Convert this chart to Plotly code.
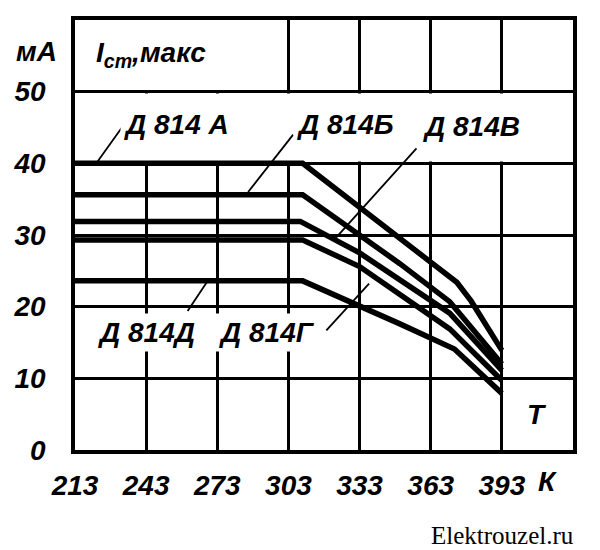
"""
Д814 zener diodes: maximum stabilisation current vs temperature.
"""

import plotly.graph_objects as go

# temperature breakpoints (K) and max current (mA) for each diode
temp_a = [213, 309, 374, 380, 393]
curr_a = [40, 40, 23.4, 20.8, 13.9]

temp_b = [213, 309, 350, 371, 393]
curr_b = [35.6, 35.6, 26.0, 20.7, 12.0]

temp_v = [213, 308, 333, 371, 393]
curr_v = [31.9, 31.9, 27.5, 19.1, 11.1]

temp_g = [213, 309, 333, 371, 393]
curr_g = [29.3, 29.3, 25.6, 16.9, 9.7]

temp_d = [213, 309, 350, 373, 393]
curr_d = [23.6, 23.6, 17.6, 14.1, 7.9]

curve_names = ["Д 814 А", "Д 814Б", "Д 814В", "Д 814Г", "Д 814Д"]

# label centres (T, mA)
label_x = [256, 327, 380, 294, 243]
label_y = [45.4, 45.4, 45.2, 16.4, 16.4]

# leader lines from label to curve: (T start, mA start, T end, mA end)
leader_lines = [
    (222, 40.0, 233, 45.1),
    (286, 36.0, 305, 44.0),
    (323, 29.6, 357, 42.1),
    (319, 16.7, 337, 23.2),
    (260.5, 19.4, 269, 23.6),
]

x_ticks = [213, 243, 273, 303, 333, 363, 393]
y_ticks = [0, 10, 20, 30, 40, 50]

FONT = "Liberation Sans"
hand = dict(family=FONT, size=28, color="black", style="italic", weight="bold")

fig = go.Figure()

for t, c in [(temp_a, curr_a), (temp_b, curr_b), (temp_v, curr_v),
             (temp_g, curr_g), (temp_d, curr_d)]:
    fig.add_trace(go.Scatter(
        x=t, y=c, mode="lines",
        line=dict(color="black", width=5.5),
        hoverinfo="skip", showlegend=False,
    ))

for x0, y0, x1, y1 in leader_lines:
    fig.add_trace(go.Scatter(
        x=[x0, x1], y=[y0, y1], mode="lines",
        line=dict(color="black", width=1.8),
        hoverinfo="skip", showlegend=False,
    ))

# blank bands where the labels sit (grid is hidden there)
fig.add_shape(type="rect", x0=213, x1=423, y0=40.25, y1=49.75,
              fillcolor="white", line_width=0, layer="between")
fig.add_shape(type="rect", x0=213, x1=302.3, y0=50.25, y1=60,
              fillcolor="white", line_width=0, layer="between")

for name, lx, ly in zip(curve_names, label_x, label_y):
    fig.add_annotation(x=lx, y=ly, text=name, showarrow=False,
                       font=hand, bgcolor="white", borderpad=3)

fig.add_annotation(x=245, y=55.2, text="I<sub>ст</sub>,макс", showarrow=False,
                   font=hand)
fig.add_annotation(x=-0.078, y=0.926, xref="paper", yref="paper", text="мА",
                   showarrow=False, font=hand, xanchor="center", yanchor="middle")
fig.add_annotation(x=407.7, y=4.9, text="T", showarrow=False, font=hand)
fig.add_annotation(x=0.948, y=-0.074, xref="paper", yref="paper", text="К",
                   showarrow=False, font=hand, xanchor="center", yanchor="middle")
fig.add_annotation(x=0.859, y=-0.198, xref="paper", yref="paper",
                   text="Elektrouzel.ru", showarrow=False,
                   xanchor="center", yanchor="middle",
                   font=dict(family="Liberation Serif", size=25, color="black"))

fig.update_xaxes(
    range=[213, 423], tickvals=x_ticks,
    showgrid=True, gridcolor="black", gridwidth=2.5,
    showline=True, linecolor="black", linewidth=3.5, mirror=True,
    ticks="outside", ticklen=8, tickcolor="rgba(0,0,0,0)",
    tickfont=hand, automargin=False,
    zeroline=False, fixedrange=True,
)
fig.update_yaxes(
    range=[0, 60], tickvals=y_ticks,
    showgrid=True, gridcolor="black", gridwidth=2.5,
    showline=True, linecolor="black", linewidth=3.5, mirror=True,
    ticks="outside", ticklen=20, tickcolor="rgba(0,0,0,0)",
    tickfont=hand, automargin=False,
    zeroline=False, fixedrange=True,
)

fig.update_layout(
    width=592, height=542,
    margin=dict(l=67, r=27, t=12, b=100),
    plot_bgcolor="white", paper_bgcolor="white",
    showlegend=False,
)

fig.write_html("out.html")
